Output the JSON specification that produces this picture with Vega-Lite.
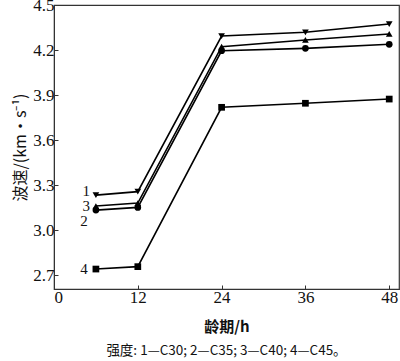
{
  "$schema": "https://vega.github.io/schema/vega-lite/v6.json",
  "autosize": {"type": "none"},
  "padding": {"left": 54, "top": 5, "right": 1, "bottom": 72},
  "width": 345,
  "height": 284,
  "background": "white",
  "config": {
    "view": {"stroke": "#333", "strokeWidth": 1.2},
    "font": "Liberation Serif"
  },
  "title": {
    "text": "强度: 1—C30; 2—C35; 3—C40; 4—C45。",
    "orient": "bottom",
    "anchor": "middle",
    "font": "Noto Sans CJK SC",
    "fontSize": 13.5,
    "fontWeight": "normal",
    "color": "#111",
    "offset": 10
  },
  "datasets": {
    "pts": [
      {"series": "1", "age": 6, "v": 3.233},
      {"series": "1", "age": 12, "v": 3.256},
      {"series": "1", "age": 24, "v": 4.293},
      {"series": "1", "age": 36, "v": 4.318},
      {"series": "1", "age": 48, "v": 4.373},
      {"series": "2", "age": 6, "v": 3.133},
      {"series": "2", "age": 12, "v": 3.151},
      {"series": "2", "age": 24, "v": 4.195},
      {"series": "2", "age": 36, "v": 4.211},
      {"series": "2", "age": 48, "v": 4.238},
      {"series": "3", "age": 6, "v": 3.16},
      {"series": "3", "age": 12, "v": 3.18},
      {"series": "3", "age": 24, "v": 4.222},
      {"series": "3", "age": 36, "v": 4.267},
      {"series": "3", "age": 48, "v": 4.307},
      {"series": "4", "age": 6, "v": 2.74},
      {"series": "4", "age": 12, "v": 2.756},
      {"series": "4", "age": 24, "v": 3.818},
      {"series": "4", "age": 36, "v": 3.845},
      {"series": "4", "age": 48, "v": 3.873}
    ],
    "labels": [
      {"label": "1", "age": 4.6, "v": 3.263},
      {"label": "3", "age": 4.6, "v": 3.162},
      {"label": "2", "age": 4.3, "v": 3.058},
      {"label": "4", "age": 4.3, "v": 2.74}
    ]
  },
  "layer": [
    {
      "data": {"name": "pts"},
      "mark": {"type": "line", "color": "black", "strokeWidth": 1.6},
      "encoding": {
        "x": {
          "field": "age", "type": "quantitative",
          "scale": {"domain": [0, 49.4], "nice": false, "zero": false},
          "axis": {
            "values": [0, 12, 24, 36, 48],
            "title": "龄期/h",
            "titleFont": "Noto Sans CJK SC",
            "titleFontSize": 15,
            "titleFontWeight": "bold",
            "titleColor": "#111",
            "titlePadding": 14,
            "labelFont": "Liberation Serif",
            "labelFontSize": 17,
            "labelColor": "#111",
            "labelPadding": 4,
            "tickSize": -4,
            "tickColor": "#333",
            "domainColor": "#333",
            "grid": false
          }
        },
        "y": {
          "field": "v", "type": "quantitative",
          "scale": {"domain": [2.607, 4.5], "nice": false, "zero": false},
          "axis": {
            "values": [2.7, 3.0, 3.3, 3.6, 3.9, 4.2, 4.5],
            "format": ".1f",
            "title": "波速/(km·s⁻¹)",
            "titleFont": "Noto Sans CJK SC",
            "titleFontSize": 16,
            "titleFontWeight": "normal",
            "titleColor": "#111",
            "titlePadding": 4,
            "labelFont": "Liberation Serif",
            "labelFontSize": 17,
            "labelColor": "#111",
            "labelPadding": 4,
            "tickSize": -4,
            "tickColor": "#333",
            "domainColor": "#333",
            "grid": false
          }
        },
        "detail": {"field": "series"}
      }
    },
    {
      "data": {"name": "pts"},
      "mark": {"type": "point", "filled": true, "color": "black", "opacity": 1, "size": 45},
      "encoding": {
        "x": {"field": "age", "type": "quantitative"},
        "y": {"field": "v", "type": "quantitative"},
        "shape": {
          "field": "series", "type": "nominal",
          "scale": {"domain": ["1", "2", "3", "4"], "range": ["triangle-down", "circle", "triangle-up", "square"]},
          "legend": null
        }
      }
    },
    {
      "data": {"name": "labels"},
      "mark": {"type": "text", "font": "Liberation Serif", "fontSize": 15, "color": "#111", "align": "center", "baseline": "middle"},
      "encoding": {
        "x": {"field": "age", "type": "quantitative"},
        "y": {"field": "v", "type": "quantitative"},
        "text": {"field": "label"}
      }
    }
  ]
}
